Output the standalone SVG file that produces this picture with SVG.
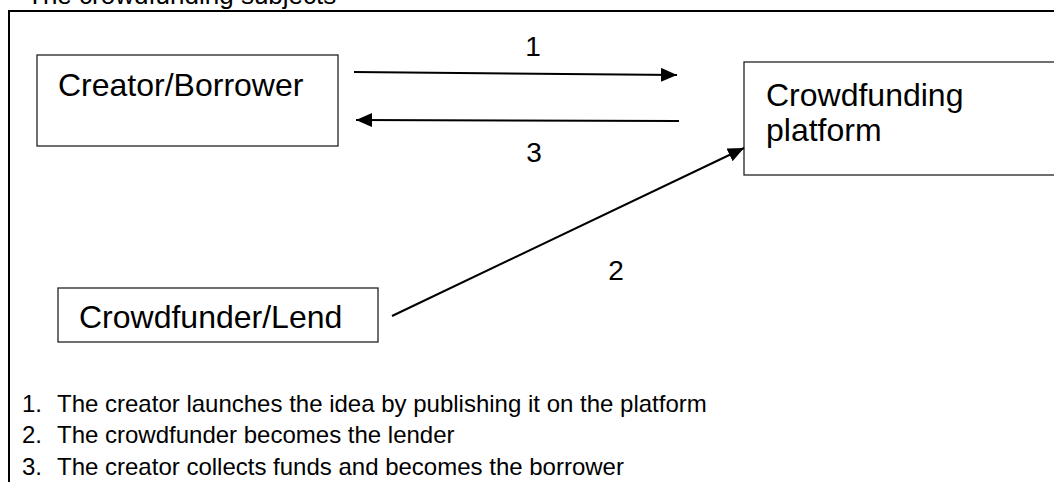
<svg xmlns="http://www.w3.org/2000/svg" width="1054" height="482" viewBox="0 0 1054 482">
  <defs>
    <style>
      text { font-family: "Liberation Sans", Arial, sans-serif; fill: #000; }
      .box { fill: #fff; stroke: #222; stroke-width: 1.3; }
      .frame { fill: none; stroke: #000; stroke-width: 2; }
      .conn { fill: none; stroke: #000; stroke-width: 2; }
      .lbl { font-size: 32px; }
      .num { font-size: 28px; text-anchor: middle; }
      .list { font-size: 24px; }
    </style>
    <marker id="arrow" markerUnits="userSpaceOnUse" markerWidth="18" markerHeight="16" refX="16" refY="7" orient="auto">
      <path d="M0,0 L16,7 L0,14 Z" fill="#000"/>
    </marker>
  </defs>

  <rect width="1054" height="482" fill="#fff"/>

  <!-- title, partly clipped by the top edge -->
  <text x="27" y="4" style="font-size:26px">The crowdfunding subjects</text>

  <!-- outer frame (top and left sides) -->
  <polyline class="frame" points="1060,11 9,11 9,490"/>

  <g id="creator">
    <rect class="box" x="37" y="55" width="301" height="91"/>
    <text class="lbl" x="58" y="96">Creator/Borrower</text>
  </g>

  <g id="platform">
    <rect class="box" x="744" y="62" width="330" height="113"/>
    <text class="lbl" x="766" y="106">Crowdfunding</text>
    <text class="lbl" x="766" y="141">platform</text>
  </g>

  <g id="crowdfunder">
    <rect class="box" x="58" y="288" width="320" height="54"/>
    <text class="lbl" x="79" y="328">Crowdfunder/Lend</text>
  </g>

  <g id="connectors">
    <line class="conn" x1="354" y1="72" x2="677" y2="75" marker-end="url(#arrow)"/>
    <line class="conn" x1="679" y1="121" x2="356" y2="120" marker-end="url(#arrow)"/>
    <line class="conn" x1="392" y1="316" x2="744" y2="148" marker-end="url(#arrow)"/>
    <text class="num" x="533" y="56">1</text>
    <text class="num" x="534" y="162">3</text>
    <text class="num" x="616" y="280">2</text>
  </g>

  <g id="legend" class="list">
    <text x="22" y="412">1.</text>
    <text x="57" y="412">The creator launches the idea by publishing it on the platform</text>
    <text x="22" y="443">2.</text>
    <text x="57" y="443">The crowdfunder becomes the lender</text>
    <text x="22" y="475">3.</text>
    <text x="57" y="475">The creator collects funds and becomes the borrower</text>
  </g>
</svg>
